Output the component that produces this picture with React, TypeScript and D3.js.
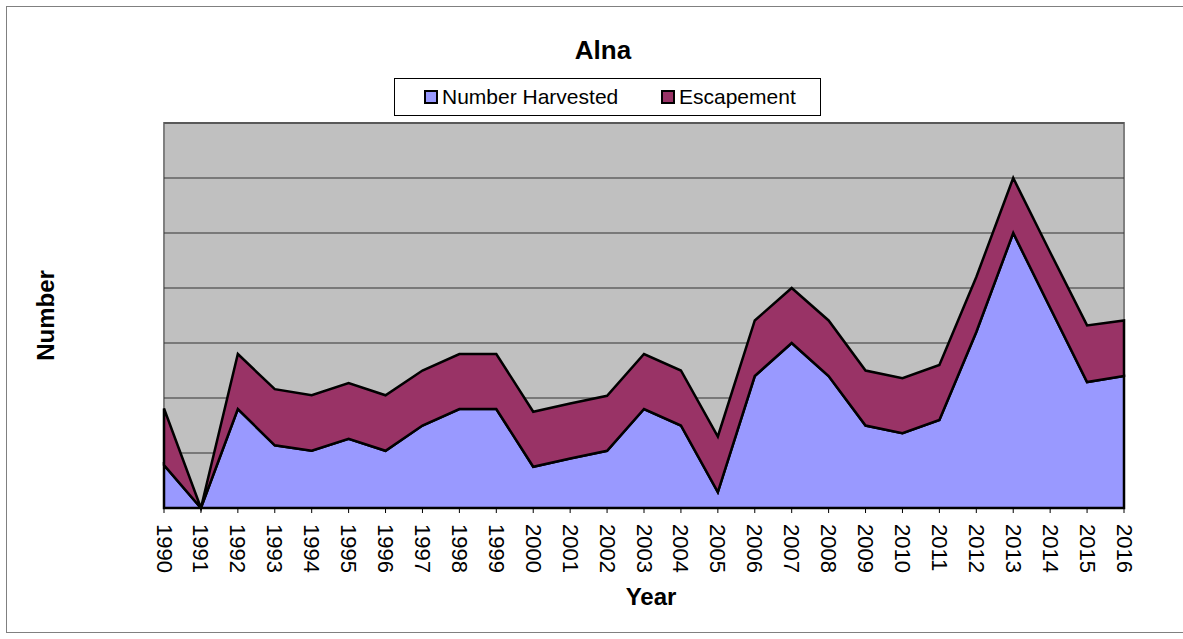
import React from 'react';
import * as d3 from 'd3';

const years = [1990, 1991, 1992, 1993, 1994, 1995, 1996, 1997, 1998, 1999, 2000, 2001, 2002, 2003, 2004, 2005, 2006, 2007, 2008, 2009, 2010, 2011, 2012, 2013, 2014, 2015, 2016];
const harvested = [78, 0, 180, 114, 104, 126, 104, 150, 180, 180, 75, 90, 104, 180, 150, 29, 240, 300, 240, 150, 136, 160, 320, 500, 364, 229, 240];
const escapement = [103, 0, 100, 102, 101, 101, 101, 100, 100, 100, 100, 100, 100, 100, 100, 101, 101, 100, 101, 100, 100, 100, 100, 100, 101, 103, 101];
const gridTicks = [100, 200, 300, 400, 500, 600, 700];
const seriesNames = ['Number Harvested', 'Escapement'];
const seriesColors = ['#9999FF', '#993366'];

const W = 1183;
const H = 639;
const margin = { top: 123, left: 164, right: 1183 - 1124, bottom: 639 - 508 };
const font = 'Arial, "Liberation Sans", sans-serif';

export default function App() {
  const iwidth = W - margin.left - margin.right;
  const iheight = H - margin.top - margin.bottom;

  const x = d3.scaleLinear().domain([years[0], years[years.length - 1]]).range([0, iwidth]);
  const y = d3.scaleLinear().domain([0, 700]).range([iheight, 0]);

  const rows = years.map((yr, i) => ({ year: yr, h: harvested[i], e: escapement[i] }));
  const stacked = d3.stack<any>().keys(['h', 'e'])(rows);

  const area = d3.area<any>()
    .x(d => x(d.data.year))
    .y0(d => y(d[0]))
    .y1(d => y(d[1]));

  return (
    <svg width={W} height={H} style={{ position: 'absolute', left: 0, top: 0 }}>
      <rect x={0} y={0} width={W} height={H} fill="#fff" />
      <rect x={6.5} y={6.5} width={W + 20} height={626} fill="none" stroke="#808080" strokeWidth={1} />

      <text x={603} y={59} textAnchor="middle" fontFamily={font} fontWeight="bold" fontSize={26}>Alna</text>

      <rect x={394.5} y={78.5} width={426} height={37} fill="#fff" stroke="#000" strokeWidth={1} />
      {seriesNames.map((name, i) => {
        const lx = i === 0 ? 425 : 662;
        return (
          <g key={name}>
            <rect x={lx} y={91} width={12} height={12} fill={seriesColors[i]} stroke="#000" strokeWidth={2} />
            <text x={lx + 17} y={104} fontFamily={font} fontSize={21}>{name}</text>
          </g>
        );
      })}

      <g transform={`translate(${margin.left},${margin.top})`}>
        <rect x={0} y={0} width={iwidth} height={iheight} fill="#C0C0C0" stroke="#808080" strokeWidth={2} />
        {gridTicks.map(t => (
          <line key={t} x1={0} x2={iwidth} y1={y(t)} y2={y(t)} stroke="#333" strokeWidth={1} />
        ))}
        {stacked.map((s, i) => (
          <path key={i} d={area(s) || ''} fill={seriesColors[i]} stroke="#000" strokeWidth={2.5} strokeLinejoin="miter" />
        ))}
        <line x1={0} x2={iwidth} y1={iheight} y2={iheight} stroke="#000" strokeWidth={2} />
        {years.map(yr => (
          <g key={yr} transform={`translate(${x(yr)},${iheight})`}>
            <line y1={0} y2={5} stroke="#000" strokeWidth={1} />
            <text transform="translate(0,16) rotate(90)" dominantBaseline="central" fontFamily={font} fontSize={22}>{yr}</text>
          </g>
        ))}
      </g>

      <text x={651} y={605} textAnchor="middle" fontFamily={font} fontWeight="bold" fontSize={24}>Year</text>
      <text transform={`translate(45,${(margin.top + 508) / 2}) rotate(-90)`} textAnchor="middle" dominantBaseline="central" fontFamily={font} fontWeight="bold" fontSize={24}>Number</text>
    </svg>
  );
}
